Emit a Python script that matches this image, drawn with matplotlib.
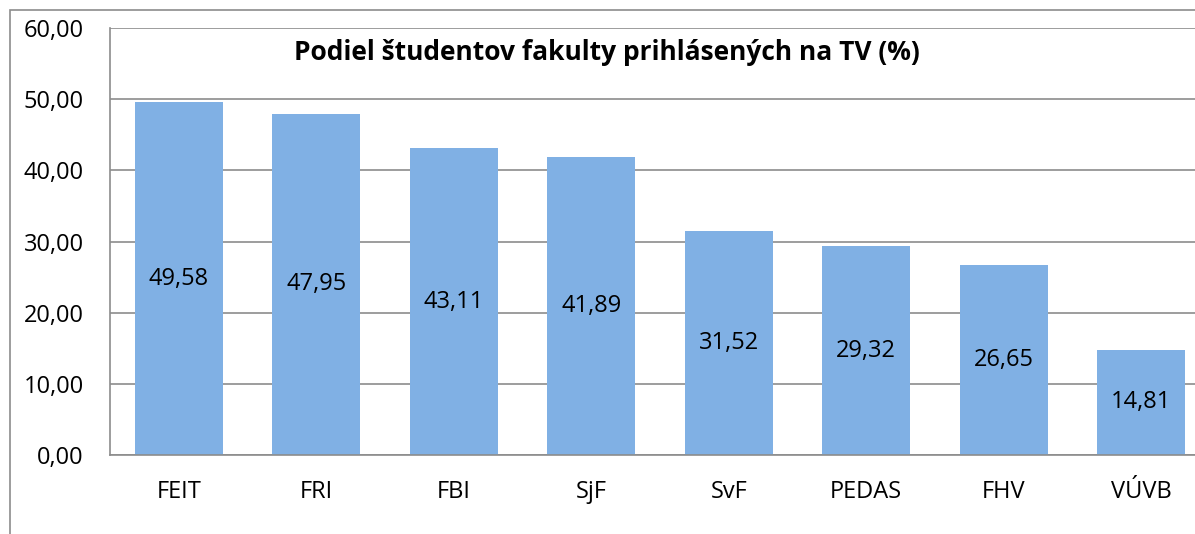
import matplotlib.pyplot as plt
import matplotlib.patches as patches
import numpy as np

faculties = ['FEIT', 'FRI', 'FBI', 'SjF', 'SvF', 'PEDAS', 'FHV', 'VÚVB']
shares = [49.58, 47.95, 43.11, 41.89, 31.52, 29.32, 26.65, 14.81]
yTicks = [0, 10, 20, 30, 40, 50, 60]
title = 'Podiel študentov fakulty prihlásených na TV (%)'

plt.rcParams['font.family'] = ['Open Sans', 'DejaVu Sans']

W, H = 1195, 534
fig = plt.figure(figsize=(W / 100, H / 100), dpi=100)

# Plot area runs past the right edge, like in the cropped original
ax = fig.add_axes([110 / W, 1 - 455 / H, 1100 / W, 427 / H])

x = np.arange(len(faculties))
ax.bar(x, shares, width=0.64, color='#80B0E4', zorder=2)

# Value labels in the middle of each bar
for xi, val in zip(x, shares):
    ax.text(xi, val / 2, f'{val:.2f}'.replace('.', ','), ha='center', va='center',
            fontsize=17, color='black', zorder=3)

ax.set_xlim(-0.5, len(faculties) - 0.5)
ax.set_ylim(0, 60)
ax.set_yticks(yTicks)
ax.set_yticklabels([f'{t:.2f}'.replace('.', ',') for t in yTicks], fontsize=17)
ax.set_xticks(x)
ax.set_xticklabels(faculties, fontsize=17)
ax.tick_params(axis='both', length=0)
ax.tick_params(axis='y', pad=19)
ax.tick_params(axis='x', pad=18)

ax.yaxis.grid(True, color='#8C8C8C', linewidth=1.2, zorder=0)
ax.set_axisbelow(True)
for side in ['top', 'right']:
    ax.spines[side].set_visible(False)
for side in ['left', 'bottom']:
    ax.spines[side].set_color('#8C8C8C')
    ax.spines[side].set_linewidth(1.2)

# Chart title inside the plot area
fig.text(607 / W, 1 - 53 / H, title, ha='center', va='center',
         fontsize=19, fontweight='bold')

# Outer chart border
border = patches.Rectangle((10 / W, -0.1), 1.2, 1 - 10 / H + 0.1, transform=fig.transFigure,
                           fill=False, edgecolor='#8C8C8C', linewidth=1.2, clip_on=False)
fig.patches.append(border)

fig.savefig('out.png', dpi=100)
